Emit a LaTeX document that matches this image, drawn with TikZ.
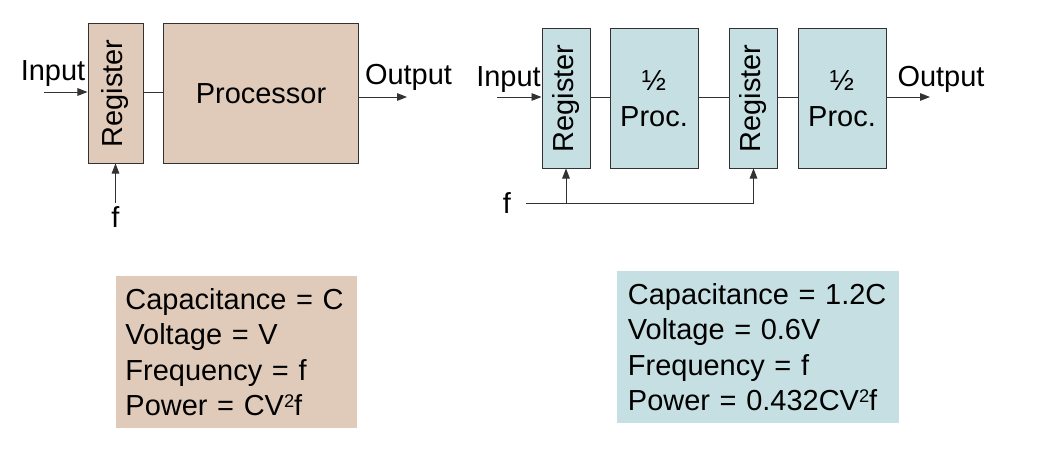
\documentclass[tikz,border=0pt]{standalone}
\usepackage{fontspec}
\setmainfont{Liberation Sans}
\usepackage{graphicx}
\usetikzlibrary{arrows.meta}
\definecolor{sand}{RGB}{224,203,186}
\definecolor{ice}{RGB}{197,223,226}
\definecolor{wire}{RGB}{50,50,50}
\newcommand{\pwrtwo}{\raisebox{5.4pt}{\fontsize{13}{13}\selectfont 2}}
\tikzstyle{register} = [rectangle, minimum width=1.375cm, minimum height=3.475cm, inner sep=0pt, draw=wire, line width=0.7pt]
\tikzstyle{process} = [rectangle, minimum width=2.2cm, minimum height=3.475cm, inner sep=0pt, align=center, draw=wire, line width=0.7pt]
\tikzstyle{summary} = [rectangle, minimum height=3.8cm, inner ysep=0pt, align=left]
\tikzstyle{tag} = [inner sep=2pt, anchor=base]
\tikzstyle{line} = [wire, line width=0.7pt]
\tikzstyle{arrow} = [wire, line width=0.7pt, -{Triangle[length=0.25cm, width=0.19cm]}]

\begin{document}
\begin{tikzpicture}[x=0.025cm, y=-0.025cm, font=\fontsize{20.6}{25.2}\selectfont]
\useasboundingbox (0,0) rectangle (1054,448);

% one register, one processor
\node (regA) [register, fill=sand] at (115.5,93.5) {\rotatebox{90}{Register}};
\node (procA) [process, fill=sand, minimum width=4.85cm] at (261,93.5) {Processor};
\node (inTextA) [tag] at (53,80) {Input};
\node (outTextA) [tag] at (408.5,84) {Output};
\node (fA) [tag] at (115.5,227) {f};
\coordinate (inA) at (44,92);
\coordinate (outA) at (407,97);

\draw [arrow] (inA) -- (inA -| regA.west);
\draw [line] (regA.east |- inA) -- (procA.west |- inA);
\draw [arrow] (procA.east |- outA) -- (outA);
\draw [arrow] (fA.north) -- (regA.south);

% two half processors
\node (regB1) [register, fill=ice, minimum width=1.2cm] at (566,98.5) {\rotatebox{90}{Register}};
\node (procB1) [process, fill=ice] at (654,98.5) {½\\Proc.};
\node (regB2) [register, fill=ice, minimum width=1.2cm] at (753.5,98.5) {\rotatebox{90}{Register}};
\node (procB2) [process, fill=ice] at (842,98.5) {½\\Proc.};
\node (inTextB) [tag] at (508.5,86) {Input};
\node (outTextB) [tag] at (941,86) {Output};
\node (fB) [tag] at (507,213) {f};
\coordinate (inB) at (497,97);
\coordinate (outB) at (930,97);
\coordinate (clkB) at (526,203);

\draw [arrow] (inB) -- (inB -| regB1.west);
\draw [line] (regB1.east |- inB) -- (procB1.west |- inB);
\draw [line] (procB1.east |- inB) -- (regB2.west |- inB);
\draw [line] (regB2.east |- inB) -- (procB2.west |- inB);
\draw [arrow] (procB2.east |- outB) -- (outB);
\draw [arrow] (clkB) -| (regB2.south);
\draw [arrow] (clkB -| regB1.south) -- (regB1.south);

% figures
\node (sumA) [summary, fill=sand, text width=5.55cm, inner xsep=0.2375cm] at (236.5,352) {Capacitance = C\\Voltage = V\\Frequency = f\\Power = CV\pwrtwo f};
\node (sumB) [summary, fill=ice, text width=6.5cm, inner xsep=0.275cm] at (758,347) {Capacitance = 1.2C\\Voltage = 0.6V\\Frequency = f\\Power = 0.432CV\pwrtwo f};

\end{tikzpicture}
\end{document}
